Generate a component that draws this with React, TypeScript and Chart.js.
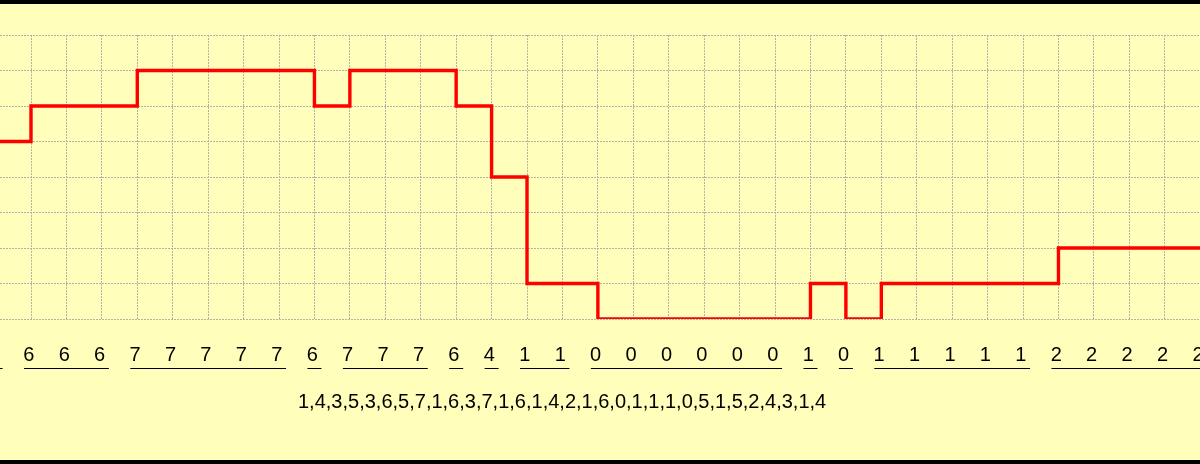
import React, { useEffect, useRef } from "react";
import { Chart, registerables } from "chart.js";

Chart.register(...registerables);

// sample positions (grid columns) and the quantised level held at each one
const sampleIndex = [-1, 0, 1, 2, 3, 4, 5, 6, 7, 8, 9, 10, 11, 12, 13, 14, 15, 16, 17, 18, 19, 20, 21, 22, 23, 24, 25, 26, 27, 28, 29, 30, 31, 32, 33];
const levels = [5, 6, 6, 6, 7, 7, 7, 7, 7, 6, 7, 7, 7, 6, 4, 1, 1, 0, 0, 0, 0, 0, 0, 1, 0, 1, 1, 1, 1, 1, 2, 2, 2, 2, 2];
const levelTicks = [0, 1, 2, 3, 4, 5, 6, 7, 8];
const sequence = [1, 4, 3, 5, 3, 6, 5, 7, 1, 6, 3, 7, 1, 6, 1, 4, 2, 1, 6, 0, 1, 1, 1, 0, 5, 1, 5, 2, 4, 3, 1, 4];

const W = 1200;
const H = 464;
const BG = "#ffffbb";
const GRID = "#b2b2a6";
const FONT = '20px "Liberation Sans", Arial, sans-serif';

const decorPlugin = {
  id: "decor",
  beforeDraw(chart: any) {
    const ctx = chart.ctx;
    ctx.save();
    ctx.fillStyle = BG;
    ctx.fillRect(0, 0, chart.width, chart.height);
    ctx.restore();
  },
  afterDraw(chart: any) {
    const ctx = chart.ctx;
    const xs = chart.scales.x;
    ctx.save();
    ctx.fillStyle = "#000";
    // top / bottom bands
    ctx.fillRect(0, 0, chart.width, 4);
    ctx.fillRect(0, chart.height - 4, chart.width, 4);
    // sample labels
    ctx.font = FONT;
    ctx.textAlign = "left";
    ctx.textBaseline = "alphabetic";
    levels.forEach((v, i) => {
      const px = xs.getPixelForValue(sampleIndex[i]);
      ctx.fillText(String(v), px - 7.8, 361);
    });
    // underline runs of equal levels
    let start = 0;
    for (let i = 1; i <= levels.length; i++) {
      if (i === levels.length || levels[i] !== levels[start]) {
        const x1 = xs.getPixelForValue(sampleIndex[start]) - 7;
        const x2 = xs.getPixelForValue(sampleIndex[i - 1]) + 7;
        ctx.fillRect(x1, 368, x2 - x1, 1);
        start = i;
      }
    }
    // code sequence
    ctx.fillText(sequence.join(","), 298, 408);
    ctx.restore();
  },
};

export default function App() {
  const ref = useRef<HTMLCanvasElement | null>(null);

  useEffect(() => {
    if (!ref.current) return;
    const unit = 35.43;
    const xMin = -31 / unit;
    const xMax = xMin + W / unit;
    const chart = new Chart(ref.current, {
      type: "line",
      data: {
        datasets: [
          {
            data: sampleIndex.map((k, i) => ({ x: k, y: levels[i] })),
            borderColor: "#ff0000",
            borderWidth: 3.4,
            pointRadius: 0,
            stepped: "before",
            fill: false,
            borderJoinStyle: "miter",
          },
        ],
      },
      options: {
        animation: false,
        responsive: false,
        events: [],
        layout: { padding: { top: 35, bottom: H - 319, left: 0, right: 0 } },
        plugins: { legend: { display: false }, tooltip: { enabled: false } },
        scales: {
          x: {
            type: "linear",
            min: xMin,
            max: xMax,
            afterBuildTicks: (scale: any) => {
              scale.ticks = sampleIndex
                .filter((k) => k >= xMin && k <= xMax)
                .map((k) => ({ value: k }));
            },
            ticks: { display: false },
            grid: { color: GRID, lineWidth: 1, drawTicks: false },
            border: { display: false, dash: [2, 1] },
          },
          y: {
            type: "linear",
            min: 0,
            max: 8,
            afterBuildTicks: (scale: any) => {
              scale.ticks = levelTicks.map((v) => ({ value: v }));
            },
            ticks: { display: false },
            grid: { color: GRID, lineWidth: 1, drawTicks: false },
            border: { display: false, dash: [2, 1] },
          },
        },
      },
      plugins: [decorPlugin],
    } as any);
    return () => chart.destroy();
  }, []);

  return (
    <div style={{ position: "fixed", left: 0, top: 0, width: W, height: H, background: BG }}>
      <canvas ref={ref} width={W} height={H} style={{ display: "block" }} />
    </div>
  );
}
